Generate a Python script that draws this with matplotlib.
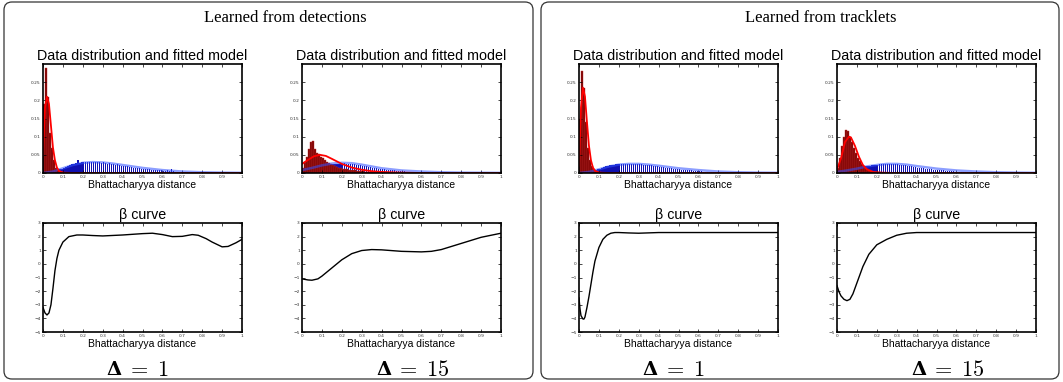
import numpy as np
import matplotlib.pyplot as plt
from matplotlib.patches import FancyBboxPatch

# histogram bins: width 0.01, centres at 0.005 + 0.01*k
bin_w = 0.01

# ---- learned from detections, delta = 1
red_d1 = [0.19, 0.29, 0.21, 0.11, 0.07, 0.035, 0.015, 0.008, 0.004, 0.002, 0.001]
blue_d1 = [0.000, 0.001, 0.001, 0.002, 0.003, 0.004, 0.006, 0.008, 0.010, 0.012,
           0.014, 0.017, 0.020, 0.022, 0.024, 0.025, 0.027, 0.036, 0.028, 0.029,
           0.030, 0.029, 0.031, 0.030, 0.031, 0.030, 0.031, 0.029, 0.030, 0.028,
           0.029, 0.027, 0.026, 0.027, 0.025, 0.024, 0.023, 0.024, 0.021, 0.020,
           0.020, 0.018, 0.019, 0.017, 0.016, 0.015, 0.014, 0.015, 0.013, 0.012,
           0.012, 0.011, 0.010, 0.011, 0.009, 0.009, 0.008, 0.008, 0.007, 0.007,
           0.006, 0.006, 0.007, 0.005, 0.011, 0.005, 0.004, 0.004, 0.004, 0.003,
           0.003, 0.003, 0.003, 0.002, 0.002, 0.002, 0.002, 0.002, 0.002, 0.002,
           0.001, 0.001, 0.001, 0.001, 0.004, 0.001, 0.001, 0.001, 0.001, 0.001,
           0.001, 0.001]
red_fit_x_d1 = [0, 0.005, 0.01, 0.02, 0.03, 0.04, 0.05, 0.06, 0.07, 0.08, 0.1, 0.15, 1.0]
red_fit_y_d1 = [0.05, 0.12, 0.18, 0.21, 0.19, 0.13, 0.07, 0.035, 0.015, 0.006, 0.001, 0, 0]
blue_fit_x_d1 = [0, 0.05, 0.1, 0.15, 0.2, 0.25, 0.3, 0.35, 0.4, 0.5, 0.6, 0.7, 0.8, 0.9, 1.0]
blue_fit_y_d1 = [0, 0.004, 0.013, 0.022, 0.028, 0.030, 0.029, 0.026, 0.022, 0.014, 0.008,
                 0.004, 0.002, 0.001, 0.0005]
beta_x_d1 = [0, 0.01, 0.02, 0.03, 0.04, 0.05, 0.06, 0.07, 0.08, 0.1, 0.13, 0.17, 0.2, 0.25,
             0.3, 0.4, 0.5, 0.55, 0.6, 0.65, 0.7, 0.75, 0.78, 0.82, 0.85, 0.9, 0.93, 0.97, 1.0]
beta_y_d1 = [-3.2, -3.6, -3.75, -3.6, -3.0, -1.8, -0.5, 0.4, 1.0, 1.6, 2.0, 2.12, 2.12, 2.08,
             2.05, 2.12, 2.22, 2.25, 2.15, 2.0, 2.02, 2.15, 2.1, 1.85, 1.6, 1.25, 1.28, 1.55, 1.8]

# ---- learned from detections, delta = 15
red_d15 = [0.015, 0.030, 0.045, 0.066, 0.084, 0.087, 0.066, 0.055, 0.053, 0.045,
           0.040, 0.036, 0.030, 0.027, 0.024, 0.021, 0.019, 0.017, 0.015, 0.013,
           0.012, 0.011, 0.010, 0.009, 0.008, 0.008, 0.007, 0.006, 0.006, 0.005,
           0.005, 0.004, 0.004, 0.004, 0.003, 0.003, 0.003, 0.003, 0.002, 0.002,
           0.002, 0.002, 0.002, 0.002, 0.001, 0.001, 0.001, 0.001, 0.001, 0.001,
           0.001, 0.001, 0.001]
blue_d15 = [0.004, 0.005, 0.006, 0.008, 0.010, 0.011, 0.012, 0.014, 0.015, 0.016,
            0.018, 0.019, 0.020, 0.022, 0.023, 0.024, 0.025, 0.026, 0.026, 0.027,
            0.026, 0.027, 0.026, 0.026, 0.025, 0.024, 0.024, 0.023, 0.022, 0.021,
            0.020, 0.019, 0.018, 0.017, 0.016, 0.015, 0.014, 0.013, 0.012, 0.011,
            0.010, 0.010, 0.009, 0.008, 0.008, 0.007, 0.007, 0.006, 0.006, 0.005,
            0.005, 0.005, 0.004, 0.004, 0.004, 0.003, 0.003, 0.003, 0.003, 0.002,
            0.002, 0.002, 0.002, 0.002, 0.002, 0.002, 0.001, 0.001, 0.001, 0.001,
            0.001, 0.001, 0.001, 0.001, 0.001, 0.001, 0.001, 0.001, 0.001, 0.001,
            0.001, 0.001, 0.001, 0.001, 0.001, 0.001, 0.001, 0.001, 0.001, 0.001]
red_fit_x_d15 = [0, 0.03, 0.06, 0.09, 0.12, 0.15, 0.2, 0.25, 0.3, 0.35, 0.4, 0.5, 0.6, 1.0]
red_fit_y_d15 = [0.025, 0.036, 0.046, 0.050, 0.047, 0.039, 0.025, 0.015, 0.009, 0.005,
                 0.003, 0.001, 0, 0]
blue_fit_x_d15 = [0, 0.05, 0.1, 0.15, 0.2, 0.25, 0.3, 0.35, 0.4, 0.5, 0.6, 0.7, 0.8, 1.0]
blue_fit_y_d15 = [0.008, 0.014, 0.021, 0.026, 0.028, 0.027, 0.023, 0.018, 0.013, 0.007,
                  0.004, 0.002, 0.001, 0.0003]
beta_x_d15 = [0, 0.03, 0.05, 0.08, 0.1, 0.15, 0.2, 0.25, 0.3, 0.35, 0.4, 0.5, 0.6, 0.65,
              0.7, 0.8, 0.9, 1.0]
beta_y_d15 = [-1.1, -1.18, -1.2, -1.1, -0.9, -0.3, 0.3, 0.75, 0.98, 1.05, 1.03, 0.92, 0.88,
              0.92, 1.05, 1.5, 1.95, 2.25]

# ---- learned from tracklets, delta = 1
red_t1 = [0.15, 0.28, 0.235, 0.14, 0.07, 0.035, 0.02, 0.01, 0.005, 0.003, 0.002, 0.001]
blue_t1 = [0.000, 0.000, 0.001, 0.001, 0.002, 0.003, 0.004, 0.006, 0.008, 0.010,
           0.012, 0.014, 0.016, 0.018, 0.020, 0.021, 0.022, 0.023, 0.024, 0.025,
           0.025, 0.025, 0.026, 0.025, 0.026, 0.025, 0.026, 0.025, 0.025, 0.025,
           0.024, 0.024, 0.023, 0.023, 0.022, 0.021, 0.021, 0.020, 0.019, 0.018,
           0.017, 0.017, 0.016, 0.015, 0.014, 0.013, 0.013, 0.012, 0.011, 0.011,
           0.010, 0.009, 0.009, 0.008, 0.008, 0.007, 0.007, 0.006, 0.006, 0.005,
           0.005, 0.005, 0.004, 0.004, 0.004, 0.003, 0.003, 0.003, 0.003, 0.003,
           0.002, 0.002, 0.002, 0.002, 0.002, 0.002, 0.002, 0.002, 0.002, 0.002,
           0.001, 0.001, 0.001, 0.001, 0.001, 0.001, 0.001, 0.001, 0.001, 0.001]
red_fit_x_t1 = [0, 0.005, 0.01, 0.02, 0.03, 0.04, 0.05, 0.06, 0.07, 0.08, 0.1, 0.15, 1.0]
red_fit_y_t1 = [0.02, 0.10, 0.18, 0.235, 0.21, 0.14, 0.075, 0.035, 0.015, 0.006, 0.001, 0, 0]
blue_fit_x_t1 = [0, 0.05, 0.1, 0.15, 0.2, 0.25, 0.3, 0.35, 0.4, 0.5, 0.6, 0.7, 0.8, 0.9, 1.0]
blue_fit_y_t1 = [0, 0.003, 0.010, 0.018, 0.023, 0.025, 0.025, 0.023, 0.020, 0.013, 0.008,
                 0.004, 0.002, 0.001, 0.0005]
beta_x_t1 = [0, 0.005, 0.01, 0.02, 0.025, 0.03, 0.04, 0.05, 0.06, 0.07, 0.08, 0.1, 0.12,
             0.14, 0.16, 0.18, 0.2, 0.25, 0.3, 0.4, 0.6, 1.0]
beta_y_t1 = [-2.5, -3.3, -3.8, -4.05, -4.05, -3.9, -3.2, -2.4, -1.5, -0.6, 0.2, 1.2, 1.8,
             2.1, 2.25, 2.3, 2.3, 2.27, 2.25, 2.3, 2.3, 2.3]

# ---- learned from tracklets, delta = 15
red_t15 = [0.015, 0.04, 0.075, 0.10, 0.117, 0.115, 0.10, 0.085, 0.07, 0.055,
           0.042, 0.032, 0.024, 0.018, 0.013, 0.010, 0.007, 0.005, 0.004, 0.003,
           0.002, 0.002, 0.001, 0.001, 0.001, 0.001]
blue_t15 = [0.002, 0.003, 0.004, 0.005, 0.006, 0.007, 0.008, 0.009, 0.010, 0.011,
            0.012, 0.014, 0.015, 0.017, 0.018, 0.019, 0.020, 0.021, 0.022, 0.023,
            0.023, 0.024, 0.024, 0.025, 0.025, 0.025, 0.025, 0.025, 0.025, 0.024,
            0.024, 0.023, 0.023, 0.022, 0.021, 0.020, 0.019, 0.018, 0.017, 0.016,
            0.015, 0.014, 0.014, 0.013, 0.012, 0.011, 0.011, 0.010, 0.009, 0.009,
            0.008, 0.008, 0.007, 0.007, 0.006, 0.006, 0.005, 0.005, 0.005, 0.004,
            0.004, 0.004, 0.003, 0.003, 0.003, 0.003, 0.002, 0.002, 0.002, 0.002,
            0.002, 0.002, 0.001, 0.001, 0.001, 0.001, 0.001, 0.001, 0.001, 0.001,
            0.001, 0.001, 0.001, 0.001, 0.001, 0.001, 0.001, 0.001]
red_fit_x_t15 = [0, 0.02, 0.04, 0.06, 0.07, 0.09, 0.11, 0.13, 0.15, 0.18, 0.22, 0.3, 1.0]
red_fit_y_t15 = [0.01, 0.04, 0.085, 0.10, 0.098, 0.075, 0.045, 0.022, 0.010, 0.003, 0.001, 0, 0]
blue_fit_x_t15 = [0, 0.05, 0.1, 0.15, 0.2, 0.25, 0.3, 0.35, 0.4, 0.5, 0.6, 0.7, 0.8, 0.9, 1.0]
blue_fit_y_t15 = [0.003, 0.007, 0.012, 0.018, 0.022, 0.025, 0.025, 0.023, 0.019, 0.012, 0.007,
                  0.004, 0.002, 0.001, 0.0005]
beta_x_t15 = [0, 0.01, 0.02, 0.035, 0.05, 0.065, 0.08, 0.1, 0.13, 0.16, 0.2, 0.25, 0.3,
              0.35, 0.4, 0.5, 1.0]
beta_y_t15 = [-1.6, -2.05, -2.35, -2.6, -2.7, -2.6, -2.2, -1.4, -0.2, 0.7, 1.4, 1.8, 2.1,
              2.25, 2.3, 2.3, 2.3]

panels = [
    (red_d1, blue_d1, red_fit_x_d1, red_fit_y_d1, blue_fit_x_d1, blue_fit_y_d1, beta_x_d1, beta_y_d1, '1'),
    (red_d15, blue_d15, red_fit_x_d15, red_fit_y_d15, blue_fit_x_d15, blue_fit_y_d15, beta_x_d15, beta_y_d15, '15'),
    (red_t1, blue_t1, red_fit_x_t1, red_fit_y_t1, blue_fit_x_t1, blue_fit_y_t1, beta_x_t1, beta_y_t1, '1'),
    (red_t15, blue_t15, red_fit_x_t15, red_fit_y_t15, blue_fit_x_t15, blue_fit_y_t15, beta_x_t15, beta_y_t15, '15'),
]
group_titles = ['Learned from detections', 'Learned from tracklets']

W, H = 1063, 382
plt.rcParams['mathtext.fontset'] = 'cm'
fig = plt.figure(figsize=(W / 100, H / 100), dpi=100)

# rounded frames (in inches so the corners stay round)
for x0, x1 in [(4, 533), (541, 1059)]:
    box = FancyBboxPatch((x0 / 100, 0.03), (x1 - x0) / 100, 3.77,
                         boxstyle='round,pad=0,rounding_size=0.08',
                         transform=fig.dpi_scale_trans, facecolor='none',
                         edgecolor='#333333', linewidth=0.9)
    fig.patches.append(box)

fig.text(285 / W, 1 - 18 / H, group_titles[0], ha='center', va='center',
         family='Liberation Serif', fontsize=12)
fig.text(821 / W, 1 - 18 / H, group_titles[1], ha='center', va='center',
         family='Liberation Serif', fontsize=12)

lefts = [43, 302, 579, 837]
aw, ah = 199, 109
xt = np.arange(0, 1.01, 0.1)
xtl = ['0', '0.1', '0.2', '0.3', '0.4', '0.5', '0.6', '0.7', '0.8', '0.9', '1']


def style(ax):
    ax.set_xlim(0, 1)
    ax.set_xticks(xt)
    ax.set_xticklabels(xtl)
    ax.tick_params(direction='in', top=True, right=True, length=2.5, width=0.5,
                   labelsize=3.2, pad=1.5, labelcolor='#333333')
    for s in ax.spines.values():
        s.set_linewidth(1.2)
    ax.set_xlabel('Bhattacharyya distance', family='Liberation Sans', fontsize=7.5, labelpad=1)


for i, (red, blue, rfx, rfy, bfx, bfy, bx, by, dlt) in enumerate(panels):
    l = lefts[i] / W
    # top: histogram + fitted model
    ax = fig.add_axes([l, 1 - 173 / H, aw / W, ah / H])
    xb = 0.005 + bin_w * np.arange(len(blue))
    xr = 0.005 + bin_w * np.arange(len(red))
    ax.bar(xb, blue, width=0.007, color='#1010b0', edgecolor='none')
    ax.bar(xr, red, width=0.009, color='#7a0000', edgecolor='#c03030', linewidth=0.3)
    ax.plot(bfx, bfy, color='#3050ff', lw=1.8, alpha=0.55)
    ax.plot(rfx, rfy, color='#ff0000', lw=1.3)
    ax.set_ylim(0, 0.3)
    ax.set_yticks([0, 0.05, 0.1, 0.15, 0.2, 0.25])
    ax.set_yticklabels(['0', '0.05', '0.1', '0.15', '0.2', '0.25'])
    style(ax)
    ax.set_title('Data distribution and fitted model', family='Liberation Sans',
                 fontsize=10.3, pad=3)

    # bottom: beta curve
    ax2 = fig.add_axes([l, 1 - 332 / H, aw / W, ah / H])
    ax2.plot(bx, by, color='black', lw=1.0)
    ax2.set_ylim(-5, 3)
    ax2.set_yticks(range(-5, 4))
    style(ax2)
    ax2.set_title('\u03b2 curve', family='Liberation Sans', fontsize=10.3, pad=3)

    # delta label: bold Delta + CM "= n"
    cx = (lefts[i] + aw / 2) / W
    d_off, e_off = (-28.5, -15.5) if dlt == '1' else (-17.5, -5.5)
    fig.text(cx + d_off / W, 1 - 370 / H, '\u0394', ha='center', va='center',
             family='DejaVu Serif', weight='bold', fontsize=14)
    fig.text(cx + e_off / W, 1 - 370 / H, r'$=\;' + dlt + '$',
             ha='left', va='center', fontsize=16)

fig.savefig('out.png', dpi=100)
